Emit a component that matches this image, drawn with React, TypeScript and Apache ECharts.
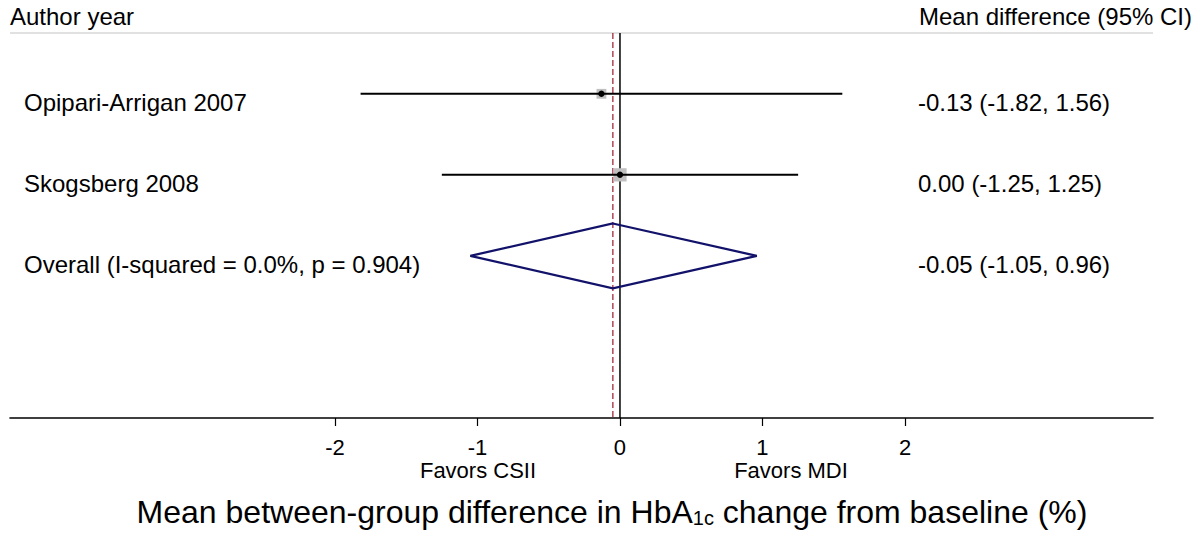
import React, { useEffect, useRef } from "react";
import * as echarts from "echarts";

// ---- data ----
const studies = ["Opipari-Arrigan 2007", "Skogsberg 2008"];
const estimates = [-0.13, 0.0];
const lowerCI = [-1.82, -1.25];
const upperCI = [1.56, 1.25];
const weights = [35.4, 64.6];

const overallLabel = "Overall (I-squared = 0.0%, p = 0.904)";
const overallEstimate = -0.05;
const overallLower = -1.05;
const overallUpper = 0.96;

const tickValues = [-2, -1, 0, 1, 2];
const headerLeft = "Author year";
const headerRight = "Mean difference (95% CI)";
const favorsLeft = "Favors CSII";
const favorsRight = "Favors MDI";

const FONT = "Arial, 'Liberation Sans', Helvetica, sans-serif";
const ROW_FONT = 24;
const TEXT_DY = 9;

const fmt = (v: number) => v.toFixed(2);

export default function App() {
  const ref = useRef<HTMLDivElement>(null);

  useEffect(() => {
    if (!ref.current) return;
    const chart = echarts.init(ref.current, null, { renderer: "svg" });

    const studyRows = studies.map((name, i) => [
      estimates[i],
      i + 1,
      lowerCI[i],
      upperCI[i],
      weights[i],
    ]);
    const overallRow = studies.length + 1;

    const rowText = (text: string, x: number, y: number) => ({
      type: "text",
      x,
      y: y + TEXT_DY,
      style: {
        text,
        fontSize: ROW_FONT,
        fontFamily: FONT,
        fill: "#000",
        verticalAlign: "middle",
        align: "left",
      },
    });

    const option: any = {
      animation: false,
      backgroundColor: "#ffffff",
      grid: { left: 10, right: 43, top: 33, bottom: 115, containLabel: false },
      xAxis: {
        type: "value",
        min: -4.28,
        max: 3.74,
        axisLine: { show: true, lineStyle: { color: "#000", width: 1.6 } },
        axisTick: {
          show: true,
          customValues: tickValues,
          length: 8,
          lineStyle: { color: "#000", width: 1.2 },
        },
        axisLabel: {
          show: true,
          customValues: tickValues,
          fontSize: 22,
          fontFamily: FONT,
          color: "#000",
          margin: 18,
        },
        splitLine: { show: false },
      },
      yAxis: {
        type: "value",
        min: 0.25,
        max: 5,
        inverse: true,
        show: false,
      },
      graphic: [
        {
          type: "line",
          shape: { x1: 10, y1: 33, x2: 1153, y2: 33 },
          style: { stroke: "#c4c4c4", lineWidth: 1.2 },
          z: 1,
        },
        {
          type: "text",
          x: 10,
          y: 16,
          style: {
            text: headerLeft,
            fontSize: 24,
            fontFamily: FONT,
            fill: "#000",
            align: "left",
            verticalAlign: "middle",
          },
        },
        {
          type: "text",
          x: 1192,
          y: 16,
          style: {
            text: headerRight,
            fontSize: 24,
            fontFamily: FONT,
            fill: "#000",
            align: "right",
            verticalAlign: "middle",
          },
        },
        {
          type: "text",
          x: 478,
          y: 470,
          style: {
            text: favorsLeft,
            fontSize: 22,
            fontFamily: FONT,
            fill: "#000",
            align: "center",
            verticalAlign: "middle",
          },
        },
        {
          type: "text",
          x: 791,
          y: 470,
          style: {
            text: favorsRight,
            fontSize: 22,
            fontFamily: FONT,
            fill: "#000",
            align: "center",
            verticalAlign: "middle",
          },
        },
        {
          type: "text",
          x: 612,
          y: 512,
          style: {
            text: "Mean between-group difference in HbA{sub|1c} change from baseline (%)",
            fontSize: 32,
            fontFamily: FONT,
            fill: "#000",
            align: "center",
            verticalAlign: "middle",
            rich: {
              sub: { fontSize: 20, fontFamily: FONT, fill: "#000", verticalAlign: "bottom" },
            },
          },
        },
      ],
      series: [
        // reference line at zero
        {
          type: "custom",
          data: [[0]],
          z: 2,
          renderItem: (params: any, api: any) => {
            const p1 = api.coord([api.value(0), 0.25]);
            const p2 = api.coord([api.value(0), 5]);
            return {
              type: "line",
              shape: { x1: p1[0], y1: p1[1], x2: p2[0], y2: p2[1] },
              style: { stroke: "#000", lineWidth: 1.5 },
            };
          },
        },
        // overall effect dashed line
        {
          type: "custom",
          data: [[overallEstimate]],
          z: 3,
          renderItem: (params: any, api: any) => {
            const p1 = api.coord([api.value(0), 0.25]);
            const p2 = api.coord([api.value(0), 5]);
            return {
              type: "line",
              shape: { x1: p1[0], y1: p1[1], x2: p2[0], y2: p2[1] },
              style: { stroke: "#a52a3a", lineWidth: 1.3, lineDash: [6, 3] },
            };
          },
        },
        // studies
        {
          type: "custom",
          data: studyRows,
          z: 4,
          renderItem: (params: any, api: any) => {
            const est = api.value(0);
            const row = api.value(1);
            const lo = api.value(2);
            const hi = api.value(3);
            const w = api.value(4);
            const pc = api.coord([est, row]);
            const pl = api.coord([lo, row]);
            const ph = api.coord([hi, row]);
            const size = 1.65 * Math.sqrt(w);
            const i = params.dataIndex;
            return {
              type: "group",
              children: [
                {
                  type: "rect",
                  shape: { x: pc[0] - size / 2, y: pc[1] - size / 2, width: size, height: size },
                  style: { fill: "#c0c0c0" },
                },
                {
                  type: "line",
                  shape: { x1: pl[0], y1: pl[1], x2: ph[0], y2: ph[1] },
                  style: { stroke: "#000", lineWidth: 2 },
                },
                {
                  type: "circle",
                  shape: { cx: pc[0], cy: pc[1], r: 3.2 },
                  style: { fill: "#000" },
                },
                rowText(studies[i], 24, pc[1]),
                rowText(`${fmt(est)} (${fmt(lo)}, ${fmt(hi)})`, 918, pc[1]),
              ],
            };
          },
        },
        // overall diamond
        {
          type: "custom",
          data: [[overallEstimate, overallRow, overallLower, overallUpper]],
          z: 5,
          renderItem: (params: any, api: any) => {
            const est = api.value(0);
            const row = api.value(1);
            const lo = api.value(2);
            const hi = api.value(3);
            const top = api.coord([est, row - 0.4]);
            const bot = api.coord([est, row + 0.4]);
            const left = api.coord([lo, row]);
            const right = api.coord([hi, row]);
            return {
              type: "group",
              children: [
                {
                  type: "polygon",
                  shape: { points: [top, right, bot, left] },
                  style: { fill: "none", stroke: "#12126a", lineWidth: 2.2 },
                },
                rowText(overallLabel, 24, left[1]),
                rowText(`${fmt(est)} (${fmt(lo)}, ${fmt(hi)})`, 918, left[1]),
              ],
            };
          },
        },
      ],
    };

    chart.setOption(option);
    return () => chart.dispose();
  }, []);

  return (
    <div
      ref={ref}
      style={{ position: "fixed", left: 0, top: 0, width: 1196, height: 533, background: "#fff" }}
    />
  );
}
